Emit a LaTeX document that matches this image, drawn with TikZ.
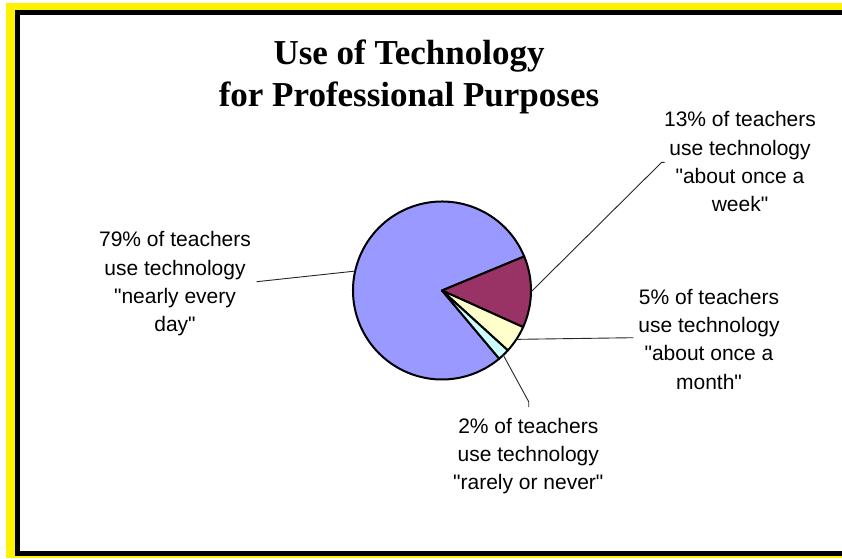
\documentclass[tikz,border=0pt]{standalone}
\usepackage{fontspec}
\newfontfamily\labelfont{Liberation Sans}
\newfontfamily\titlefont{Liberation Serif}
\usetikzlibrary{positioning}

\definecolor{pieblue}{HTML}{9999FF}
\definecolor{piered}{HTML}{993366}
\definecolor{pieyellow}{HTML}{FFFFCC}
\definecolor{piecyan}{HTML}{CCFFFF}

\begin{document}
\begin{tikzpicture}[x=1pt,y=1pt,
  lbl/.style={align=center,anchor=base,inner sep=0,font={\labelfont\fontsize{21}{28.3}\selectfont}},
  leader/.style={draw=black!85,line width=0.9pt},
  slice/.style={draw=black,line width=2pt,line join=round}]
\useasboundingbox (0,0) rectangle (842,558);

% frame
\fill[yellow] (6,0) rectangle (842,555);
\fill[black] (15,2) rectangle (842,548);
\fill[white] (20,7) rectangle (842,543);

% Title (base = last line)
\node[anchor=base,align=center,inner sep=0,font={\titlefont\bfseries\fontsize{35}{41.7}\selectfont}] (title) at (409,451.3) {Use of Technology\\for Professional Purposes};

% Pie
\coordinate (c) at (442,267.5);
\filldraw[slice,fill=pieblue] (c) -- ++(22.5:89) arc[start angle=22.5,end angle=310,radius=89] -- cycle;
\filldraw[slice,fill=piered] (c) -- ++(-24.3:89) arc[start angle=-24.3,end angle=22.5,radius=89] -- cycle;
\filldraw[slice,fill=pieyellow] (c) -- ++(-42.3:89) arc[start angle=-42.3,end angle=-24.3,radius=89] -- cycle;
\filldraw[slice,fill=piecyan] (c) -- ++(-50:89) arc[start angle=-50,end angle=-42.3,radius=89] -- cycle;

\path (c) ++(167.4:89) coordinate (p79);
\path (c) ++(-0.9:89) coordinate (p13);
\path (c) ++(-33.3:89) coordinate (p5);
\path (c) ++(-46.5:89) coordinate (p2);

% Labels (base = last line)
\node[lbl] (t79) at (175,226.4) {79\% of teachers\\use technology\\"nearly every\\day"};
\node[lbl] (t13) at (740,346.4) {13\% of teachers\\use technology\\"about once a\\week"};
\node[lbl] (t5) at (709,168.8) {5\% of teachers\\use technology\\"about once a\\month"};
\node[lbl] (t2) at (528.3,68.1) {2\% of teachers\\use technology\\"rarely or never"};

\coordinate (e79) at (256.7,276.3);
\coordinate (k13) at (661.7,395.7);
\coordinate (e13) at (664.5,395.7);
\coordinate (e5) at (633.3,220.3);
\coordinate (k2) at (528.7,156.3);
\coordinate (e2) at (528.7,151);

%leaders
\path (p79) edge[leader] (e79);
\draw[leader] (p13) -- (k13) -- (e13);
\path (p5) edge[leader] (e5);
\draw[leader] (p2) -- (k2) -- (e2);

\end{tikzpicture}
\end{document}
